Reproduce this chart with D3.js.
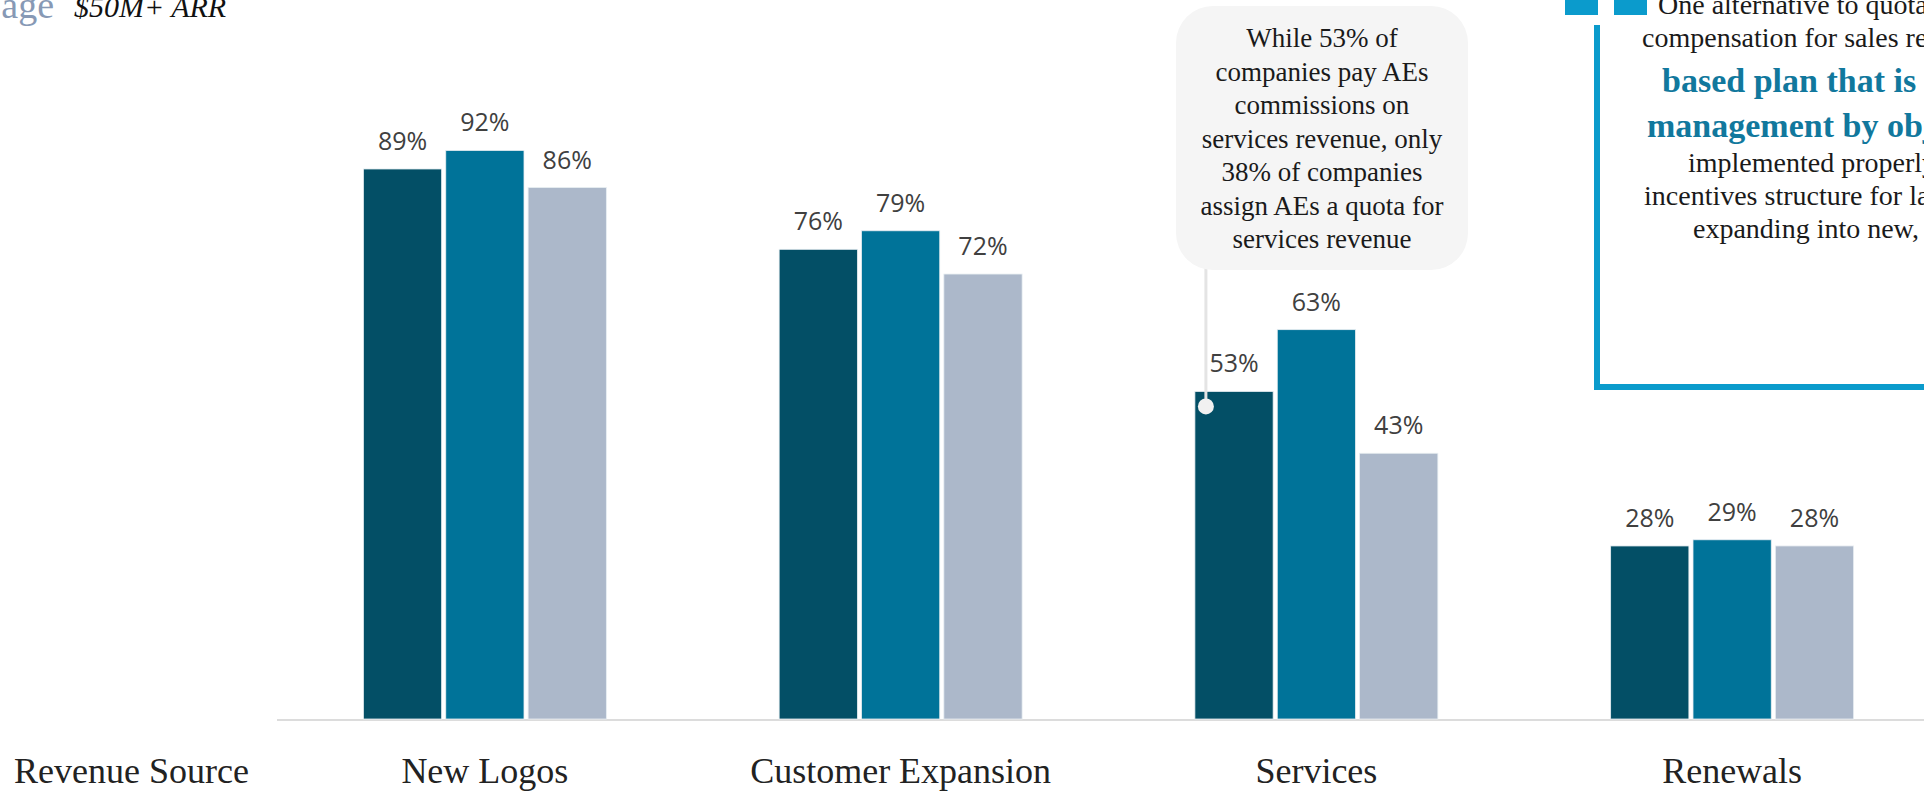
<!DOCTYPE html>
<html>
<head>
<meta charset="utf-8">
<script src="https://cdn.jsdelivr.net/npm/d3@7"></script>
<style>
  body { margin: 0; background: #fff; overflow: hidden; }
  svg { display: block; }
</style>
</head>
<body>
<svg id="chart" width="1924" height="794"></svg>
<script>
// Revenue sources paid on, by segment
var categories = ["New Logos", "Customer Expansion", "Services", "Renewals"];
var seriesNames = ["Average", "$50M+ ARR", "<$50M ARR"];
var seriesA = [89, 76, 53, 28];
var seriesB = [92, 79, 63, 29];
var seriesC = [86, 72, 43, 28];
var colors = ["#034f66", "#007399", "#acb8ca"];

var calloutLines = ["While 53% of", "companies pay AEs", "commissions on",
  "services revenue, only", "38% of companies", "assign AEs a quota for", "services revenue"];

var noteLines = ["One alternative to quota-based", "compensation for sales reps is a goal-",
  "based plan that is tied to", "management by objectives (MBOs).",
  "implemented properly, it can be an effective", "incentives structure for large teams",
  "expanding into new, untested markets."];
var noteBlue = [false, false, true, true, false, false, false];

var svg = d3.select("#chart");
var W = 1924;
var serif = "'Liberation Serif', 'Times New Roman', serif";

var values = [seriesA, seriesB, seriesC];
var data = categories.map(function(c, i) {
  return { cat: c, vals: values.map(function(s, j) { return { key: j, v: s[i] }; }) };
});

var x0 = d3.scaleBand()
  .domain(categories)
  .range([277, 1940])
  .paddingInner(0.4156)
  .paddingOuter(0.2078);

var x1 = d3.scaleBand()
  .domain([0, 1, 2])
  .range([0, x0.bandwidth()])
  .paddingInner(0.05);

var y = d3.scaleLinear().domain([0, 100]).range([719, 101]);

// baseline
svg.append("line")
  .attr("x1", 277).attr("x2", W)
  .attr("y1", y(0) + 1).attr("y2", y(0) + 1)
  .attr("stroke", "#dcdcdc").attr("stroke-width", 2);

var groups = svg.selectAll("g.grp")
  .data(data)
  .enter().append("g")
  .attr("class", "grp")
  .attr("transform", function(d) { return "translate(" + x0(d.cat) + ",0)"; });

groups.selectAll("rect")
  .data(function(d) { return d.vals; })
  .enter().append("rect")
  .attr("x", function(d) { return x1(d.key); })
  .attr("y", function(d) { return y(d.v); })
  .attr("width", x1.bandwidth())
  .attr("height", function(d) { return y(0) - y(d.v); })
  .attr("fill", function(d) { return colors[d.key]; })
  .attr("stroke", "#e8eef2").attr("stroke-width", 0.8);

groups.selectAll("text.val")
  .data(function(d) { return d.vals; })
  .enter().append("text")
  .attr("class", "val")
  .attr("x", function(d) { return x1(d.key) + x1.bandwidth() / 2; })
  .attr("y", function(d) { return y(d.v) - 19; })
  .attr("text-anchor", "middle")
  .style("font-family", "'Open Sans', sans-serif")
  .style("font-size", "25px")
  .attr("fill", "#404040")
  .text(function(d) { return d.v + "%"; });

// category axis labels
svg.selectAll("text.cat")
  .data(categories)
  .enter().append("text")
  .attr("class", "cat")
  .attr("x", function(d) { return x0(d) + x0.bandwidth() / 2; })
  .attr("y", 783)
  .attr("text-anchor", "middle")
  .style("font-family", serif)
  .style("font-size", "36px")
  .attr("fill", "#222")
  .text(function(d) { return d; });

svg.append("text")
  .attr("x", 14).attr("y", 783)
  .style("font-family", serif)
  .style("font-size", "36px")
  .attr("fill", "#222")
  .text("Revenue Source");

// clipped legend / header at top left
svg.append("text")
  .attr("x", 54).attr("y", 18)
  .attr("text-anchor", "end")
  .style("font-family", serif)
  .style("font-size", "38px")
  .attr("fill", "#8799b5")
  .text("age");

svg.append("text")
  .attr("x", 74).attr("y", 17)
  .style("font-family", serif)
  .style("font-size", "30px")
  .style("font-style", "italic")
  .attr("fill", "#111")
  .text("$50M+ ARR");

// callout for services
var svcX = x0("Services") + x1(0) + 11;
svg.append("line")
  .attr("x1", svcX).attr("x2", svcX)
  .attr("y1", 268).attr("y2", y(53) + 15)
  .attr("stroke", "#e4e4e4").attr("stroke-width", 3);
svg.append("circle")
  .attr("cx", svcX).attr("cy", y(53) + 15)
  .attr("r", 8)
  .attr("fill", "#f1f1f1");

svg.append("rect")
  .attr("x", 1176).attr("y", 6)
  .attr("width", 292).attr("height", 264)
  .attr("rx", 37)
  .attr("fill", "#f5f5f5");

svg.append("text")
  .attr("text-anchor", "middle")
  .style("font-family", serif)
  .style("font-size", "27px")
  .attr("fill", "#1a1a1a")
  .selectAll("tspan")
  .data(calloutLines)
  .enter().append("tspan")
  .attr("x", 1322)
  .attr("y", function(d, i) { return 47 + i * 33.5; })
  .text(function(d) { return d; });

// pull quote box on the right
var quoteBlue = "#0b9bcc";
svg.append("rect").attr("x", 1565).attr("y", -20).attr("width", 33).attr("height", 35).attr("fill", quoteBlue);
svg.append("rect").attr("x", 1614).attr("y", -20).attr("width", 33).attr("height", 35).attr("fill", quoteBlue);
svg.append("path")
  .attr("d", "M1597,25 V387 H" + (W + 10))
  .attr("fill", "none")
  .attr("stroke", quoteBlue)
  .attr("stroke-width", 6);

var noteX = [1658, 1642, 1662, 1647, 1688, 1644, 1693];
var noteY = [14, 47, 92, 137, 172, 205, 238];
svg.selectAll("text.note")
  .data(noteLines)
  .enter().append("text")
  .attr("class", "note")
  .attr("x", function(d, i) { return noteX[i]; })
  .attr("y", function(d, i) { return noteY[i]; })
  .style("font-family", serif)
  .style("font-size", function(d, i) { return noteBlue[i] ? "34px" : "28px"; })
  .style("font-weight", function(d, i) { return noteBlue[i] ? "bold" : "normal"; })
  .attr("fill", function(d, i) { return noteBlue[i] ? "#11789d" : "#1a1a1a"; })
  .text(function(d) { return d; });
</script>
</body>
</html>
